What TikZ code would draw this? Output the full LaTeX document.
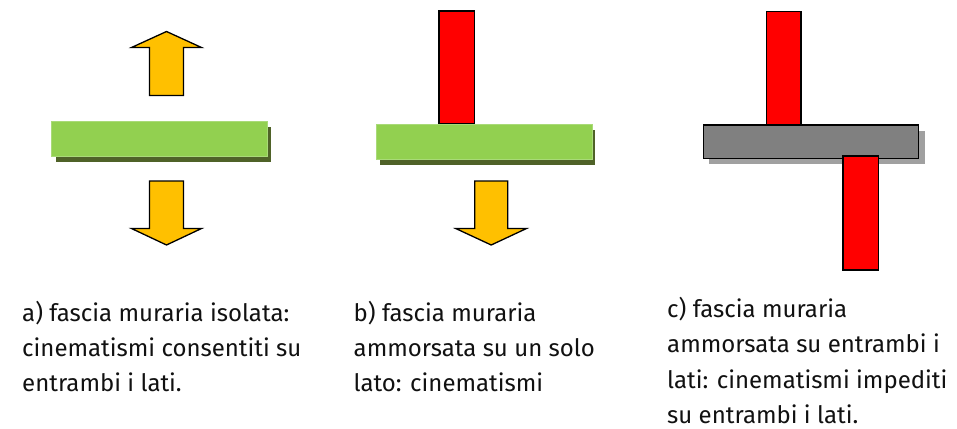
\documentclass[tikz,border=0pt]{standalone}
\usepackage{fontspec}
\setmainfont{Fira Sans}
\definecolor{arrowyellow}{HTML}{FFC000}
\definecolor{barGreen}{HTML}{92D050}
\definecolor{barGreenEdge}{HTML}{A9DA78}
\definecolor{greenShadow}{HTML}{4F6228}
\definecolor{wallRed}{HTML}{FF0000}
\definecolor{barGray}{HTML}{808080}
\definecolor{grayShadow}{HTML}{A0A0A0}
\definecolor{txt}{HTML}{111111}
\begin{document}
\begin{tikzpicture}[x=1pt,y=-1pt,
  arrowshape/.style={fill=arrowyellow, draw=black, line width=1.3pt, line join=miter},
  greenbar/.style={fill=barGreen, draw=barGreenEdge, line width=1pt},
  greenshadow/.style={fill=greenShadow, draw=none},
  graybar/.style={fill=barGray, draw=black, line width=1.5pt},
  grayshadow/.style={fill=grayShadow, draw=none},
  redwall/.style={fill=wallRed, draw=black, line width=1.3pt},
  caption/.style={anchor=base west, inner sep=0pt, text=txt, font=\fontsize{24}{28}\selectfont}]
\useasboundingbox[fill=white] (0,0) rectangle (957,428);

% ---- a) ----
\draw[arrowshape] (166.5,31.5) -- (201.5,47.5) -- (183.5,47.5) -- (183.5,95.5)
  -- (149.5,95.5) -- (149.5,47.5) -- (131.5,47.5) -- cycle;
\fill[greenshadow] (55.5,126.5) rectangle (270.7,161.7);
\draw[greenbar] (51.7,121) rectangle (267.3,156);
\draw[arrowshape] (149.5,181) -- (183.5,181) -- (183.5,228.5) -- (201.5,228.5)
  -- (166.5,245) -- (131.5,228.5) -- (149.5,228.5) -- cycle;

% ---- b) ----
\draw[redwall] (439,11) rectangle (474.7,124);
\fill[greenshadow] (379.5,129.5) rectangle (595,165);
\draw[greenbar] (376,124) rectangle (592.3,159);
\draw[arrowshape] (474.7,181) -- (507.7,181) -- (507.7,228.5) -- (526.5,228.5)
  -- (491.2,245) -- (455.7,228.5) -- (474.7,228.5) -- cycle;

% ---- c) ----
\draw[redwall] (766.3,11.7) rectangle (801,125);
\fill[grayshadow] (709,131) rectangle (924.7,164.3);
\draw[graybar] (703.3,125) rectangle (918.3,158.7);
\draw[redwall] (843,156) rectangle (878.7,270);

% ---- captions ----
\node[caption] (a1) at (22,321) {a) fascia muraria isolata:};
\node[caption] (a2) at (22,356) {cinematismi consentiti su};
\node[caption] (a3) at (22,391) {entrambi i lati.};

\node[caption] (b1) at (353.5,321) {b) fascia muraria};
\node[caption] (b2) at (353.5,356) {ammorsata su un solo};
\node[caption] (b3) at (353.5,391) {lato: cinematismi};

\node[caption] (c1) at (667,317) {c) fascia muraria};
\node[caption] (c2) at (667,352) {ammorsata su entrambi i};
\node[caption] (c3) at (667,388) {lati: cinematismi impediti};
\node[caption] (c4) at (667,423) {su entrambi i lati.};
\end{tikzpicture}
\end{document}
